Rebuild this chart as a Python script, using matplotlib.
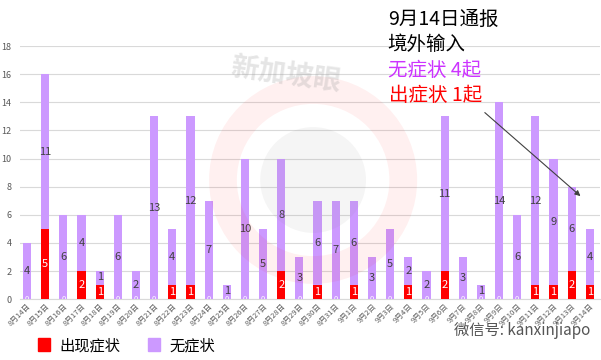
import matplotlib.pyplot as plt
from matplotlib.patches import Ellipse, Patch

plt.rcParams['font.family'] = ['Noto Sans CJK SC', 'DejaVu Sans']

# dates 8/14 .. 9/14
dates = [f"8月{d}日" for d in range(14, 32)] + [f"9月{d}日" for d in range(1, 15)]
symptomatic = [0, 5, 0, 2, 1, 0, 0, 0, 1, 1, 0, 0, 0, 0, 2, 0,
               1, 0, 1, 0, 0, 1, 0, 2, 0, 0, 0, 0, 1, 1, 2, 1]
asymptomatic = [4, 11, 6, 4, 1, 6, 2, 13, 4, 12, 7, 1, 10, 5, 8, 3,
                6, 7, 6, 3, 5, 2, 2, 11, 3, 1, 14, 6, 12, 9, 6, 4]

red = '#ff0000'
purple = '#cc99ff'

fig = plt.figure(figsize=(6.01, 3.6), dpi=100)
ax = fig.add_axes([0.033, 0.169, 0.965, 0.703])

x = list(range(len(dates)))
ax.bar(x, symptomatic, width=0.45, color=red, zorder=3)
ax.bar(x, asymptomatic, width=0.45, bottom=symptomatic, color=purple, zorder=3)

for i in x:
    s, a = symptomatic[i], asymptomatic[i]
    if s > 0:
        ax.text(i, s / 2, str(s), ha='center', va='center', color='white',
                fontsize=8, zorder=4)
    else:
        ax.text(i, 0.0, '0', ha='center', va='center', color='white',
                fontsize=5.5, zorder=4, clip_on=True)
    ax.text(i, s + a / 2 + (0.1 if a == 1 else 0), str(a), ha='center', va='center',
            color='#404040', fontsize=8, zorder=4)

ax.set_xlim(-0.4, 31.55)
ax.set_ylim(0, 18)
ax.set_yticks(range(0, 19, 2))
ax.grid(axis='y', color='#d9d9d9', linewidth=0.8, zorder=0)
ax.tick_params(axis='y', length=0, labelsize=6.5, labelcolor='#595959', pad=6)
ax.tick_params(axis='x', length=0, labelsize=5.5, labelcolor='#595959', pad=2)
ax.set_xticks(x)
ax.set_xticklabels(dates, rotation=45, ha='right', rotation_mode='anchor')
for sp in ['top', 'right', 'left']:
    ax.spines[sp].set_visible(False)
ax.spines['bottom'].set_color('#d9d9d9')

# watermark
fig.add_artist(Ellipse((0.521, 0.5), 0.3, 0.5, transform=fig.transFigure,
                       facecolor='none', edgecolor='#ff0000', linewidth=20, alpha=0.06))
fig.add_artist(Ellipse((0.521, 0.5), 0.176, 0.294, transform=fig.transFigure,
                       facecolor='#808080', edgecolor='none', alpha=0.08))
fig.text(0.475, 0.79, '新加坡眼', fontsize=20, color='#999999', alpha=0.25,
         rotation=-8, ha='center', va='center', fontweight='bold')

# annotation
fig.text(0.645, 0.945, '9月14日通报', fontsize=14, color='black', va='center', ha='left')
fig.text(0.645, 0.875, '境外输入', fontsize=14, color='black', va='center', ha='left')
fig.text(0.645, 0.805, '无症状 4起', fontsize=14, color='#cc33ff', va='center', ha='left')
fig.text(0.648, 0.735, '出症状 1起', fontsize=14, color=red, va='center', ha='left')
ax.annotate('', xy=(30.6, 7.2), xytext=(25.1, 13.4),
            arrowprops=dict(arrowstyle='-|>', color='#404040', lw=0.8,
                            mutation_scale=8))

# legend
handles = [Patch(color=red, label='出现症状'), Patch(color=purple, label='无症状')]
fig.legend(handles=handles, loc='center left', bbox_to_anchor=(0.04, 0.04),
           ncol=2, frameon=False, fontsize=11, handlelength=0.8, handleheight=0.9,
           columnspacing=1.8, handletextpad=0.6)

fig.text(0.755, 0.083, '微信号: kanxinjiapo', fontsize=11, color='#555555',
         va='center', ha='left')

fig.savefig('out.png', dpi=100)
